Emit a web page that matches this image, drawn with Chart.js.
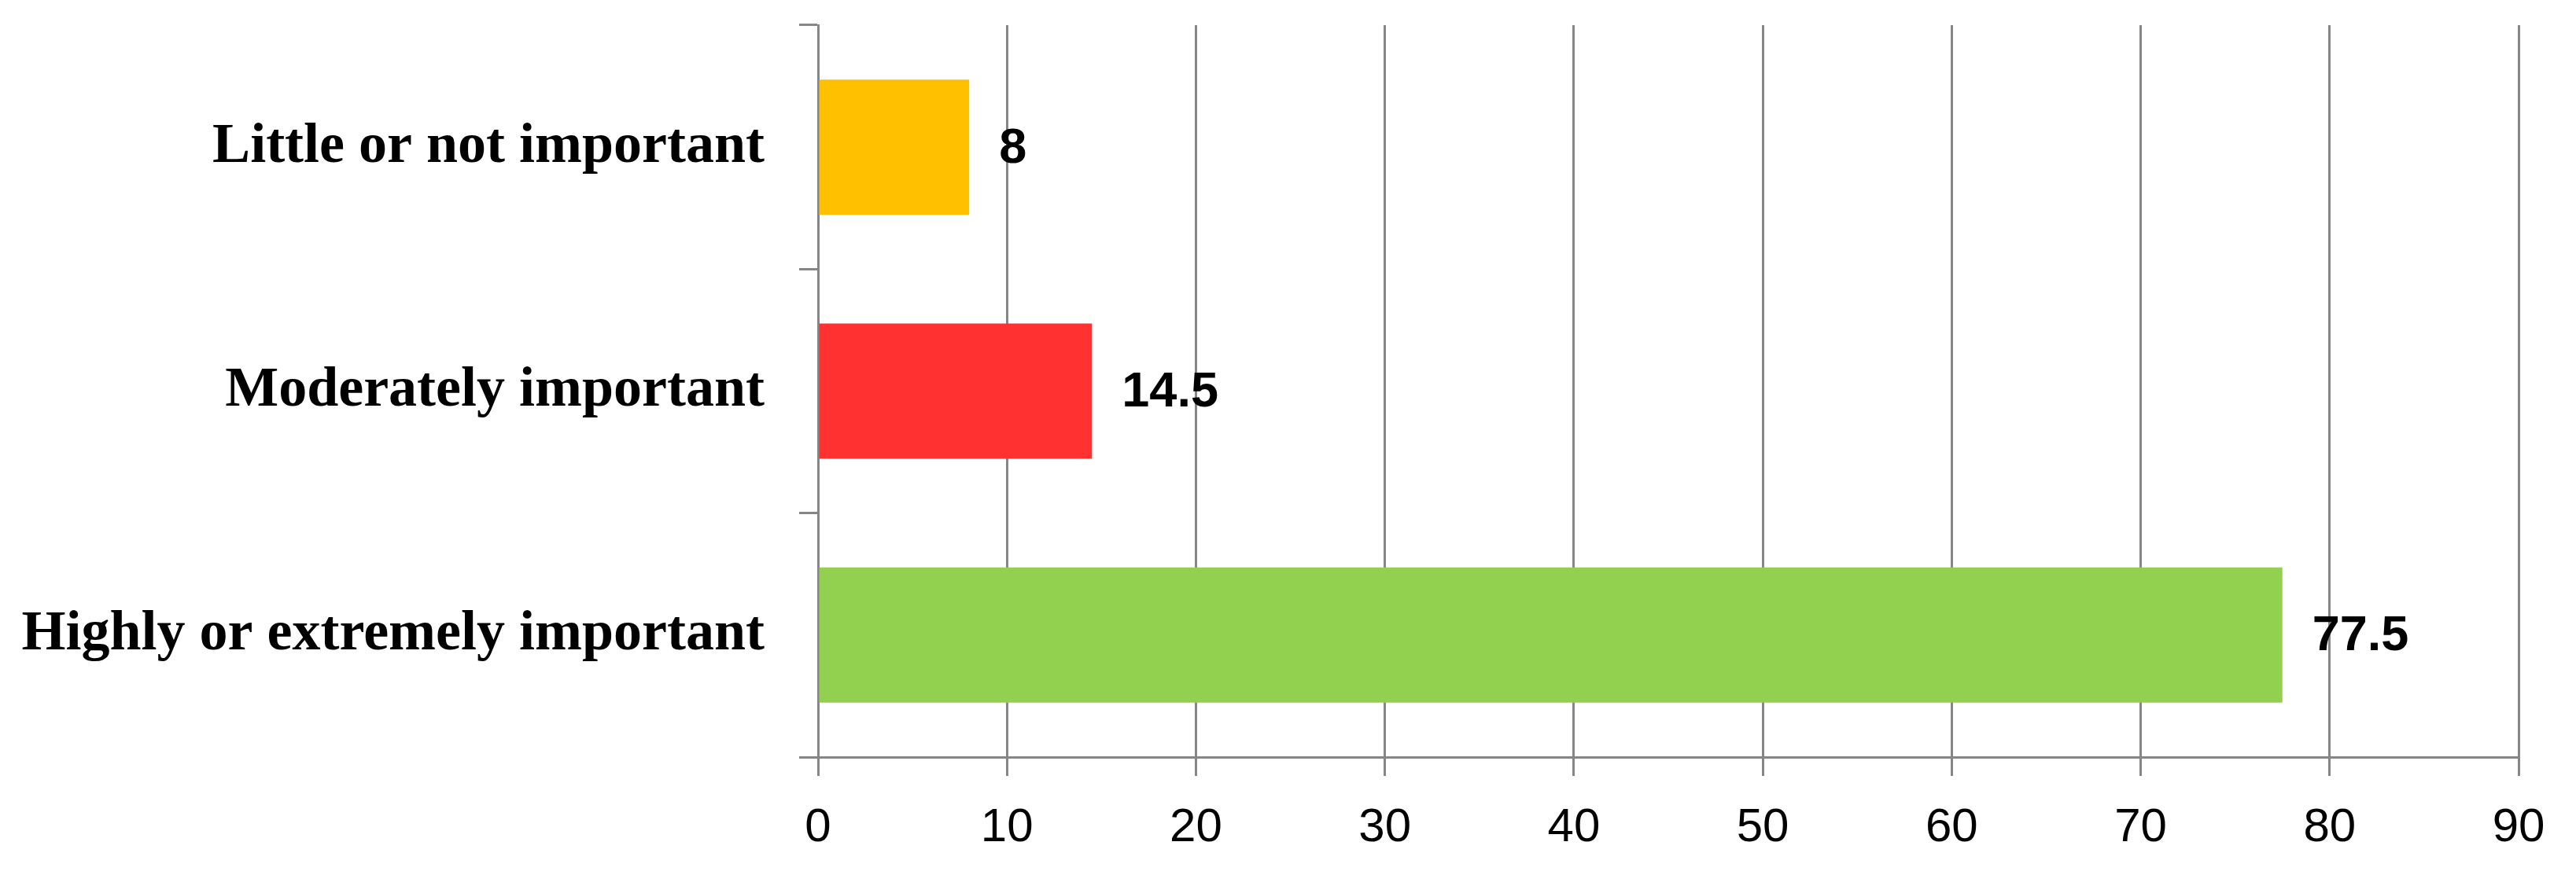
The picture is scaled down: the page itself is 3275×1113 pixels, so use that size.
<!DOCTYPE html>
<html>
<head>
<meta charset="utf-8">
<title>Importance chart</title>
<script src="https://cdn.jsdelivr.net/npm/chart.js@4.4.1/dist/chart.umd.min.js"></script>
<style>
  html, body { margin: 0; padding: 0; background: #fff; }
  canvas { display: block; }
</style>
</head>
<body>
<canvas id="importanceChart" width="3275" height="1113"></canvas>
<script>
// data
const categories = ['Little or not important', 'Moderately important', 'Highly or extremely important'];
const percentValues = [8, 14.5, 77.5];
const barColors = ['#FFC000', '#FF3131', '#92D050'];
const xTickValues = [0, 10, 20, 30, 40, 50, 60, 70, 80, 90];

const gridGray = '#868686';

// value labels to the right of each bar
const valueLabels = {
    id: 'valueLabels',
    afterDatasetsDraw(chart) {
        const ctx = chart.ctx;
        const meta = chart.getDatasetMeta(0);
        ctx.save();
        ctx.font = 'bold 63px "Liberation Sans", Arial, sans-serif';
        ctx.fillStyle = '#000';
        ctx.textAlign = 'left';
        ctx.textBaseline = 'middle';
        meta.data.forEach(function (bar, i) {
            ctx.fillText(String(percentValues[i]), bar.x + 38, bar.y + 2);
        });
        ctx.restore();
    }
};

const ctx = document.getElementById('importanceChart').getContext('2d');

new Chart(ctx, {
    type: 'bar',
    data: {
        labels: categories,
        datasets: [{
            data: percentValues,
            backgroundColor: barColors,
            borderWidth: 0,
            barPercentage: 0.554,
            categoryPercentage: 1
        }]
    },
    options: {
        indexAxis: 'y',
        responsive: false,
        animation: false,
        devicePixelRatio: 1,
        layout: {
            padding: { top: 32, right: 73, bottom: 0, left: 0 }
        },
        plugins: {
            legend: { display: false },
            tooltip: { enabled: false }
        },
        scales: {
            x: {
                min: 0,
                max: 90,
                afterBuildTicks: function (scale) {
                    scale.ticks = xTickValues.map(v => ({ value: v }));
                },
                afterFit: function (scale) {
                    scale.height = 150;
                },
                grid: {
                    color: gridGray,
                    lineWidth: 3,
                    drawTicks: true,
                    tickLength: 24
                },
                border: {
                    color: gridGray,
                    width: 3
                },
                ticks: {
                    color: '#000',
                    padding: 30,
                    maxRotation: 0,
                    font: { family: '"Liberation Sans", Arial, sans-serif', size: 60 }
                }
            },
            y: {
                afterFit: function (scale) {
                    scale.width = 1040;
                    scale.paddingTop = 0;
                    scale.paddingBottom = 0;
                },
                grid: {
                    drawOnChartArea: false,
                    color: gridGray,
                    lineWidth: 3,
                    tickLength: 24,
                    offset: true
                },
                border: {
                    color: gridGray,
                    width: 3
                },
                ticks: {
                    color: '#000',
                    padding: 44,
                    font: { family: '"Liberation Serif", "Times New Roman", serif', size: 72, weight: 'bold' }
                }
            }
        }
    },
    plugins: [valueLabels]
});
</script>
</body>
</html>
